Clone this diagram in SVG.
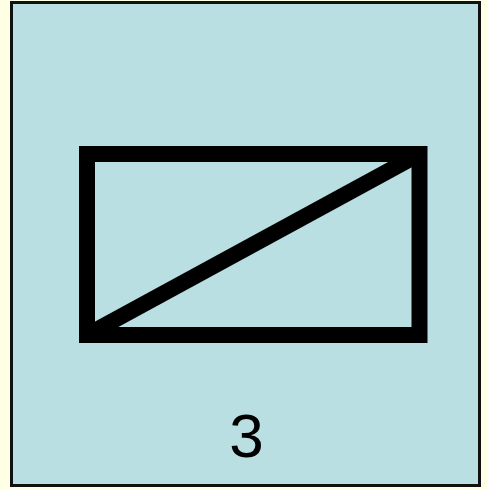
<svg xmlns="http://www.w3.org/2000/svg" width="487" height="489" viewBox="0 0 487 489">
<style>
.sym{fill:none;stroke:#000;stroke-width:16}
.lbl{font-family:"Liberation Sans",Arial,sans-serif;font-size:62px;fill:#000}
</style>
<rect x="0" y="0" width="487" height="489" fill="#FFFFE6"/>
<g id="panel">
<rect x="11.5" y="2.5" width="468" height="483" fill="#BADFE3" stroke="#111" stroke-width="3"/>
</g>
<g id="symbol">
<rect class="sym" x="87" y="154" width="332.5" height="181"/>
<line class="sym" x1="87" y1="335" x2="419.5" y2="154"/>
</g>
<g id="label">
<text class="lbl" x="246.5" y="457" text-anchor="middle">3</text>
</g>
</svg>
